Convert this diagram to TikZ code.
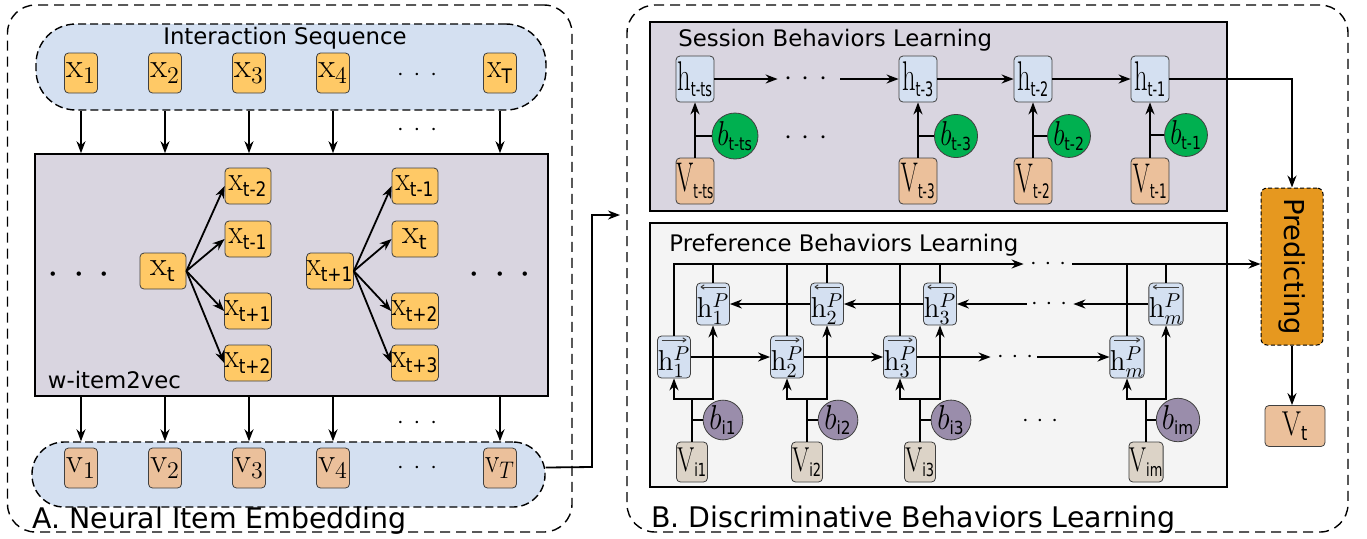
\documentclass[tikz,border=0pt]{standalone}
\usepackage[no-math]{fontspec}
\setmainfont{DejaVu Sans}
\usepackage{amsmath}
\usepackage{graphicx}
\usetikzlibrary{arrows.meta}

\definecolor{itemorange}{HTML}{FFC966}
\definecolor{pillblue}{HTML}{D4E0F1}
\definecolor{lavender}{HTML}{D9D5E0}
\definecolor{peach}{HTML}{EBC09B}
\definecolor{beige}{HTML}{DCD3C7}
\definecolor{bgreen}{HTML}{00B050}
\definecolor{bpurple}{HTML}{9A8DAB}
\definecolor{predorange}{HTML}{E6981F}
\definecolor{prefgrey}{HTML}{F4F4F4}

\newcommand{\slim}[2][0.62]{\scalebox{#1}[1]{#2}}
\newcommand{\sub}[2][10]{\text{\fontsize{#1}{#1}\selectfont #2}}
\newcommand{\hp}[1]{\raisebox{-2.5pt}[\height][\depth]{$\mathrm{h}^P_{#1}$}}
\newcommand{\dotrow}[1]{${\cdot}\hspace{#1}{\cdot}\hspace{#1}{\cdot}$}

\tikzset{
  itembox/.style={draw=black!75, fill=itemorange, rounded corners=2pt, inner sep=0pt,
    minimum width=16.5pt, minimum height=20pt, font=\LARGE},
  ctxbox/.style={itembox, minimum width=23pt, minimum height=18pt},
  embbox/.style={itembox, fill=peach},
  hbox/.style={draw=black!75, fill=pillblue, rounded corners=2pt, inner sep=0pt,
    minimum width=19pt, minimum height=23pt, font=\huge},
  vbox/.style={hbox, fill=peach},
  hpbox/.style={hbox, minimum width=16.5pt, minimum height=21pt, font=\Large},
  fwbox/.style={hpbox, path picture={\draw[-{To[length=2pt,width=2.5pt]}, line width=0.5pt]
    ([xshift=2pt,yshift=-2pt]path picture bounding box.north west) --
    ([xshift=-2pt,yshift=-2pt]path picture bounding box.north east);}},
  bwbox/.style={hpbox, path picture={\draw[{To[length=2pt,width=2.5pt]}-, line width=0.5pt]
    ([xshift=2pt,yshift=-2pt]path picture bounding box.north west) --
    ([xshift=-2pt,yshift=-2pt]path picture bounding box.north east);}},
  vibox/.style={hbox, fill=beige, minimum width=15.5pt, minimum height=20pt, font=\LARGE},
  bsess/.style={circle, draw=black!75, fill=bgreen, inner sep=0pt, minimum size=18pt, font=\LARGE},
  bpref/.style={bsess, fill=bpurple, minimum size=19.5pt},
  outerbox/.style={draw, dash pattern=on 5pt off 3pt, rounded corners=14pt, line width=0.7pt, inner sep=0pt},
  pill/.style={draw, fill=pillblue, dash pattern=on 4pt off 2pt, rounded corners=16pt, line width=0.7pt, inner sep=0pt},
  learnbox/.style={draw, line width=0.8pt, inner sep=0pt},
  title/.style={anchor=base west, inner sep=0pt, font=\fontsize{11.4}{13}\selectfont},
  bigtitle/.style={anchor=base west, inner sep=0pt, font=\fontsize{14.2}{16}\selectfont},
  dotsnode/.style={inner sep=0pt},
  conn/.style={line width=0.9pt},
  arr/.style={conn, -{Stealth[length=6pt,width=4.5pt]}},
}

\begin{document}
\begin{tikzpicture}[x=0.5pt,y=-0.5pt]
\useasboundingbox (0,0) rectangle (1367,538);

% A. Neural Item Embedding
\node[outerbox, minimum width=282.25pt, minimum height=263.5pt] (partAbox) at (289.75,268.5) {};
\node[pill, rounded corners=20pt, minimum width=255pt, minimum height=43pt] (seq) at (291,67) {};
\node[pill, minimum width=256.5pt, minimum height=32.5pt] (emb) at (288.5,474.5) {};
\node[learnbox, fill=lavender, minimum width=256.5pt, minimum height=121pt] (w2v) at (291.5,275) {};

\node[title, anchor=base] (seqtitle) at (285,44) {Interaction Sequence};
\node[title] (w2vlabel) at (47.5,388) {w-item2vec};
\node[bigtitle] (partA) at (32,528) {A. Neural Item Embedding};

\node[itembox] (x1) at (81,73) {$\mathrm{x}_1$};
\node[itembox] (x2) at (165,73) {$\mathrm{x}_2$};
\node[itembox] (x3) at (249,73) {$\mathrm{x}_3$};
\node[itembox] (x4) at (333,73) {$\mathrm{x}_4$};
\node[itembox] (xT) at (500,73) {\slim[0.85]{$\mathrm{x}_{\sub{T}}$}};
\node[dotsnode, font=\large] (xdots) at (417,75) {\dotrow{5pt}};
\node[dotsnode, font=\large] (adots) at (417,130) {\dotrow{5pt}};

\node[embbox] (v1) at (81,468) {$\mathrm{v}_1$};
\node[embbox] (v2) at (165,468) {$\mathrm{v}_2$};
\node[embbox] (v3) at (249,468) {$\mathrm{v}_3$};
\node[embbox] (v4) at (333,468) {$\mathrm{v}_4$};
\node[embbox] (vT) at (500,468) {\slim[0.85]{$\mathrm{v}_T$}};
\node[dotsnode, font=\large] (vdots) at (417,468) {\dotrow{5pt}};
\node[dotsnode, font=\large] (bdotsA) at (417,423) {\dotrow{5pt}};

\foreach \n in {x1,x2,x3,x4,xT}
  \draw[arr] (\n |- seq.south) -- (\n |- w2v.north);
\foreach \n in {v1,v2,v3,v4,vT}
  \draw[arr] (\n |- w2v.south) -- (\n |- emb.north);

% skip-gram windows
\node[dotsnode, font=\huge] (ldots) at (79,275) {\dotrow{7pt}};
\node[dotsnode, font=\huge] (rdots) at (500,275) {\dotrow{7pt}};
\node[ctxbox] (xt) at (163,271) {$\mathrm{x}_{\sub{t}}$};
\node[ctxbox] (ca1) at (248,186) {\slim[0.85]{$\mathrm{x}_{\sub{t-2}}$}};
\node[ctxbox] (ca2) at (248,239) {\slim[0.85]{$\mathrm{x}_{\sub{t-1}}$}};
\node[ctxbox] (ca3) at (248,311) {\slim[0.85]{$\mathrm{x}_{\sub{t+1}}$}};
\node[ctxbox] (ca4) at (248,363) {\slim[0.85]{$\mathrm{x}_{\sub{t+2}}$}};
\node[ctxbox] (xtn) at (330,271) {\slim[0.85]{$\mathrm{x}_{\sub{t+1}}$}};
\node[ctxbox] (cb1) at (415,186) {\slim[0.85]{$\mathrm{x}_{\sub{t-1}}$}};
\node[ctxbox] (cb2) at (415,239) {$\mathrm{x}_{\sub{t}}$};
\node[ctxbox] (cb3) at (415,311) {\slim[0.85]{$\mathrm{x}_{\sub{t+2}}$}};
\node[ctxbox] (cb4) at (415,363) {\slim[0.85]{$\mathrm{x}_{\sub{t+3}}$}};
\foreach \c in {ca1,ca2,ca3,ca4}
  \draw[arr] (xt.east) -- (\c.west);
\foreach \c in {cb1,cb2,cb3,cb4}
  \draw[arr] (xtn.east) -- (\c.west);

% B. Discriminative Behaviors Learning
\node[outerbox, minimum width=360.5pt, minimum height=263.5pt] (partBbox) at (987.5,268.5) {};
\node[bigtitle] (partB) at (651,527) {B. Discriminative Behaviors Learning};
\coordinate (bin) at (620,215);
\draw[arr] ([yshift=3.5pt]emb.east) -- (592,467) |- (bin);

\node[learnbox, fill=lavender, minimum width=288.5pt, minimum height=94.5pt] (sess) at (938.5,116.5) {};
\node[learnbox, fill=prefgrey, minimum width=288.5pt, minimum height=132pt] (pref) at (938.5,355) {};
\node[title] (sesstitle) at (678,46) {Session Behaviors Learning};
\node[title] (preftitle) at (669,251) {Preference Behaviors Learning};

\node[draw, dash pattern=on 2pt off 1.2pt, line width=0.5pt, fill=predorange, rounded corners=3pt,
  minimum width=31pt, minimum height=78.5pt, inner sep=0pt,
  font=\fontsize{13.7}{15}\selectfont] (pred) at (1292,266.5) {\rotatebox{-90}{Predicting}};
\node[vbox, font=\LARGE, minimum width=30pt, minimum height=20.5pt] (vt) at (1295,426) {\slim[0.8]{$\mathrm{V}_{\sub{t}}$}};
\draw[arr] (pred.south) -- (pred.south |- vt.north);

% session
\node[hbox] (hts) at (695,79) {\slim[0.64]{$\mathrm{h}_{\sub{t-ts}}$}};
\node[hbox] (ht3) at (918,79) {\slim[0.64]{$\mathrm{h}_{\sub{t-3}}$}};
\node[hbox] (ht2) at (1033,79) {\slim[0.64]{$\mathrm{h}_{\sub{t-2}}$}};
\node[hbox] (ht1) at (1150,79) {\slim[0.64]{$\mathrm{h}_{\sub{t-1}}$}};
\node[vbox] (vts) at (695,181) {\slim[0.6]{$\mathrm{V}_{\sub{t-ts}}$}};
\node[vbox] (vt3) at (918,181) {\slim[0.6]{$\mathrm{V}_{\sub{t-3}}$}};
\node[vbox] (vt2) at (1033,181) {\slim[0.6]{$\mathrm{V}_{\sub{t-2}}$}};
\node[vbox] (vt1) at (1150,181) {\slim[0.6]{$\mathrm{V}_{\sub{t-1}}$}};
\node[bsess] (bts) at (735,136) {\slim[0.78]{$b_{\sub[9]{t-ts}}$}};
\node[bsess] (bt3) at (956,136) {\slim[0.78]{$b_{\sub[9]{t-3}}$}};
\node[bsess] (bt2) at (1069,136) {\slim[0.78]{$b_{\sub[9]{t-2}}$}};
\node[bsess] (bt1) at (1186,135) {\slim[0.78]{$b_{\sub[9]{t-1}}$}};
\node[dotsnode, font=\Large] (sdots) at (806,79) {\dotrow{5pt}};
\node[dotsnode, font=\Large] (sbdots) at (806,138) {\dotrow{5pt}};

\draw[arr] (vts) -- (hts);
\draw[arr] (vt3) -- (ht3);
\draw[arr] (vt2) -- (ht2);
\draw[arr] (vt1) -- (ht1);
\draw[conn] (bts) -- (bts -| vts);
\draw[conn] (bt3) -- (bt3 -| vt3);
\draw[conn] (bt2) -- (bt2 -| vt2);
\draw[conn] (bt1) -- (bt1 -| vt1);
\draw[arr] (hts) -- ([xshift=-3pt]sdots.west);
\draw[arr] ([xshift=6pt]sdots.east) -- (ht3);
\draw[arr] (ht3) -- (ht2);
\draw[arr] (ht2) -- (ht1);
\draw[arr] (ht1) -| (pred.north);

% preference
\node[fwbox] (fw1) at (674,357) {\hp{1}};
\node[fwbox] (fw2) at (787,357) {\hp{2}};
\node[fwbox] (fw3) at (900,357) {\hp{3}};
\node[fwbox] (fwm) at (1127,357) {\hp{m}};
\node[bwbox] (bw1) at (713,304) {\hp{1}};
\node[bwbox] (bw2) at (827,304) {\hp{2}};
\node[bwbox] (bw3) at (940,304) {\hp{3}};
\node[bwbox] (bwm) at (1166,304) {\hp{m}};
\node[vibox] (vi1) at (692,462) {\slim[0.72]{$\mathrm{V}_{\sub[9]{i1}}$}};
\node[vibox] (vi2) at (807,462) {\slim[0.72]{$\mathrm{V}_{\sub[9]{i2}}$}};
\node[vibox] (vi3) at (920,462) {\slim[0.72]{$\mathrm{V}_{\sub[9]{i3}}$}};
\node[vibox] (vim) at (1146,462) {\slim[0.72]{$\mathrm{V}_{\sub[9]{im}}$}};
\node[bpref] (bi1) at (723,420) {\slim[0.85]{$b_{\sub[9]{i1}}$}};
\node[bpref] (bi2) at (838,420) {\slim[0.85]{$b_{\sub[9]{i2}}$}};
\node[bpref] (bi3) at (951,420) {\slim[0.85]{$b_{\sub[9]{i3}}$}};
\node[bpref] (bim) at (1178,420) {\slim[0.85]{$b_{\sub[9]{im}}$}};
\node[dotsnode, font=\large] (tdots) at (1048,264) {\dotrow{4pt}};
\node[dotsnode, font=\large] (bdots) at (1049,304) {\dotrow{4pt}};
\node[dotsnode, font=\large] (fdots) at (1015,357) {\dotrow{4pt}};
\node[dotsnode, font=\large] (pdots) at (1040,421) {\dotrow{4pt}};

\foreach \i in {1,2,3,m} {
  \coordinate (j\i) at (vi\i |- 0,399);
  \draw[conn] (vi\i) -- (j\i);
  \draw[arr] (j\i) -| (fw\i);
  \draw[arr] (j\i) -| (bw\i);
  \draw[conn] (bi\i) -- (bi\i -| vi\i);
}
\draw[arr] (fw1) -- (fw2);
\draw[arr] (fw2) -- (fw3);
\draw[arr] (fw3) -- ([xshift=-3pt]fdots.west);
\draw[arr] ([xshift=2pt]fdots.east) -- (fwm);
\draw[arr] (bwm) -- ([xshift=3pt]bdots.east);
\draw[arr] ([xshift=-2pt]bdots.west) -- (bw3);
\draw[arr] (bw3) -- (bw2);
\draw[arr] (bw2) -- (bw1);
\draw[arr] (fw1.north) |- ([xshift=-3pt]tdots.west);
\foreach \n in {bw1,fw2,bw2,fw3,bw3,fwm,bwm}
  \draw[conn] (\n.north) -- (\n.north |- tdots);
\draw[arr] ([xshift=3pt]tdots.east) -- (tdots -| pred.west);

\end{tikzpicture}
\end{document}
